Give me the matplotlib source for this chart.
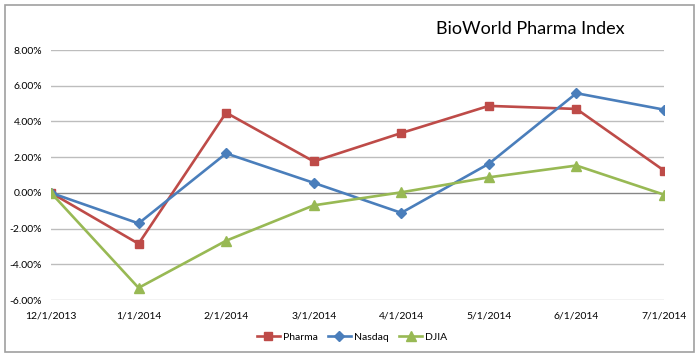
import matplotlib
matplotlib.use("Agg")
import matplotlib.pyplot as plt
from matplotlib.patches import Rectangle

plt.rcParams['font.family'] = ['Lato', 'DejaVu Sans']

dates = ['12/1/2013', '1/1/2014', '2/1/2014', '3/1/2014',
         '4/1/2014', '5/1/2014', '6/1/2014', '7/1/2014']
pharma = [0.00, -2.85, 4.49, 1.76, 3.35, 4.87, 4.70, 1.25]
nasdaq = [0.00, -1.71, 2.21, 0.56, -1.12, 1.63, 5.58, 4.66]
djia = [0.00, -5.32, -2.68, -0.70, 0.03, 0.87, 1.53, -0.10]
yticks = [-6, -4, -2, 0, 2, 4, 6, 8]

fig = plt.figure(figsize=(7, 3.57), dpi=100)
ax = fig.add_axes([51 / 700, 1 - 300 / 357, 613 / 700, 250 / 357])

x = list(range(len(dates)))
ax.plot(x, pharma, color='#be4b48', lw=1.9, marker='s', ms=6, label='Pharma', zorder=3)
ax.plot(x, nasdaq, color='#4a7ebb', lw=1.9, marker='D', ms=5, label='Nasdaq', zorder=3)
ax.plot(x, djia, color='#98b954', lw=1.9, marker='^', ms=7, label='DJIA', zorder=3)

ax.set_xlim(0, len(dates) - 1)
ax.set_ylim(-6, 8)
ax.set_yticks(yticks)
ax.set_yticklabels(['%.2f%%' % v for v in yticks])
ax.set_xticks(x)
ax.set_xticklabels(dates)
ax.tick_params(length=0, labelsize=7.5, colors='#000000')
ax.tick_params(axis='y', pad=6.5)
ax.tick_params(axis='x', pad=8)

for v in yticks:
    if v != 0:
        ax.axhline(v, color='#bdbdbd', lw=1, zorder=1)
ax.axhline(0, color='#868686', lw=1, zorder=1)
for s in ax.spines.values():
    s.set_visible(False)
ax.set_clip_on(False)

fig.text(530 / 700, 1 - 29 / 357, 'BioWorld Pharma Index', ha='center', va='center',
         fontsize=13, color='#000000')

fig.legend(loc='center', bbox_to_anchor=(352 / 700, 20 / 357), ncol=3, frameon=False,
           fontsize=7.5, handlelength=2.2, columnspacing=1.0, handletextpad=0.3)

fig.patches.append(Rectangle((5 / 700, 5 / 357), 689 / 700, 347 / 357,
                             transform=fig.transFigure, fill=False,
                             edgecolor='#a0a0a0', lw=1.2))

fig.savefig('out.png', dpi=100)
